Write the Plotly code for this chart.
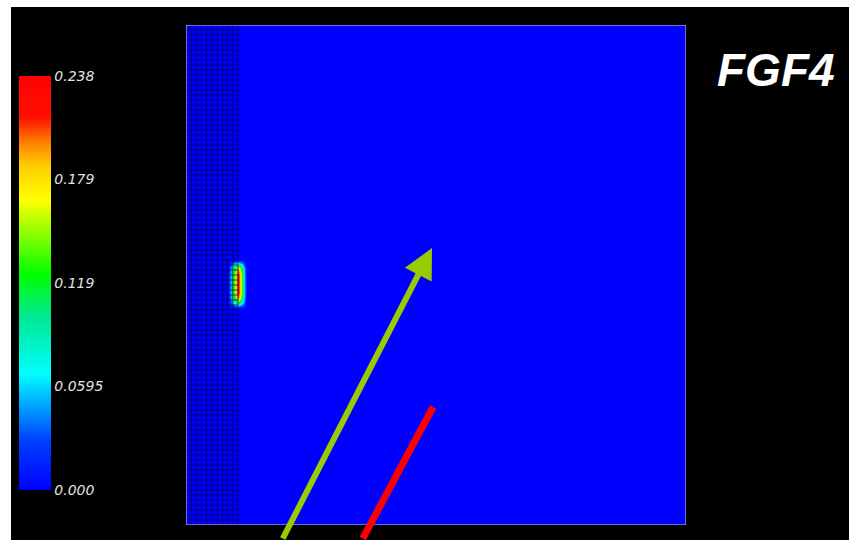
import plotly.graph_objects as go

# ---- data ----
field_x_edges = [0, 10.4, 100]
field_y_edges = [0, 100]
field_z = [[0.0, 0.0]]

mesh_x = [0, 1.04, 2.08, 3.12, 4.16, 5.2, 6.24, 7.28, 8.32, 9.36, 10.4]
mesh_y = list(range(0, 101))

hot_x = [8.4, 8.9, 9.4, 9.9, 10.4, 10.9, 11.3, 11.7, 12.2]
hot_y = [43.4, 44.2, 45.2, 46.5, 48.3, 50.1, 51.4, 52.2, 53.0]
hot_z = [
    [0.0, 0.0, 0.0, 0.0, 0.0, 0.0, 0.0, 0.0, 0.0],
    [0.0, 0.02, 0.05, 0.065, 0.095, 0.065, 0.045, 0.016, 0.0],
    [0.0, 0.042, 0.10, 0.135, 0.20, 0.135, 0.093, 0.034, 0.0],
    [0.0, 0.05, 0.12, 0.16, 0.238, 0.16, 0.11, 0.04, 0.0],
    [0.0, 0.05, 0.12, 0.16, 0.238, 0.16, 0.11, 0.04, 0.0],
    [0.0, 0.05, 0.12, 0.16, 0.238, 0.16, 0.11, 0.04, 0.0],
    [0.0, 0.042, 0.10, 0.135, 0.20, 0.135, 0.093, 0.034, 0.0],
    [0.0, 0.02, 0.05, 0.065, 0.095, 0.065, 0.045, 0.016, 0.0],
    [0.0, 0.0, 0.0, 0.0, 0.0, 0.0, 0.0, 0.0, 0.0],
]

cb_tickvals = [0.0, 0.0595, 0.119, 0.179, 0.238]
cb_ticktext = ["0.000", "0.0595", "0.119", "0.179", "0.238"]
zmax = 0.238
title_text = "FGF4"

colorscale = [
    [0.0, "#0000ff"], [0.12, "#0040ff"], [0.28, "#00ffff"], [0.42, "#00e890"],
    [0.52, "#00ff00"], [0.70, "#ffff00"], [0.78, "#ffd000"], [0.84, "#ff8000"],
    [0.90, "#ff1000"], [1.0, "#ff0000"],
]

fig = go.Figure()
fig.add_trace(go.Heatmap(x=field_x_edges, y=field_y_edges, z=field_z,
                         coloraxis="coloraxis", hoverinfo="skip"))
fig.add_trace(go.Heatmap(x=hot_x, y=hot_y, z=hot_z, zsmooth="best",
                         coloraxis="coloraxis", hoverinfo="skip"))

# mesh lines
lx, ly = [], []
for xv in mesh_x:
    lx += [xv, xv, None]
    ly += [mesh_y[0], mesh_y[-1], None]
for yv in mesh_y:
    lx += [mesh_x[0], mesh_x[-1], None]
    ly += [yv, yv, None]
fig.add_trace(go.Scatter(x=lx, y=ly, mode="lines", hoverinfo="skip",
                         line=dict(color="rgba(0,0,70,0.7)", width=1),
                         showlegend=False))

W, H = 849, 540
L, T, PW, PH = 186, 25, 500, 500


def px(p):  # screen x -> paper
    return (p - L) / PW


def py(p):  # screen y -> paper
    return (T + PH - p) / PH


shapes = [
    dict(type="rect", xref="paper", yref="paper", x0=px(-5), x1=px(11), y0=py(H + 20), y1=py(-5),
         fillcolor="white", line_width=0, layer="below"),
    dict(type="rect", xref="paper", yref="paper", x0=px(-5), x1=px(W + 20), y0=py(7), y1=py(-5),
         fillcolor="white", line_width=0, layer="below"),
    dict(type="rect", xref="x", yref="y", x0=0, x1=100, y0=0, y1=100,
         line=dict(color="#9090e0", width=1.5), fillcolor="rgba(0,0,0,0)", layer="above"),
]

annotations = [
    dict(x=49.2, y=55.4, xref="x", yref="y", text="", showarrow=True,
         ax=-150, ay=300, arrowhead=2, arrowsize=1, arrowwidth=6, arrowcolor="#99cc00",
         standoff=0),
    dict(x=49.4, y=23.6, xref="x", yref="y", text="", showarrow=True,
         ax=-71, ay=138, arrowhead=0, arrowwidth=7, arrowcolor="#ff0000", standoff=0),
    dict(x=px(776), y=py(70), xref="paper", yref="paper", text=title_text, showarrow=False,
         xanchor="center", yanchor="middle",
         font=dict(family="Liberation Sans, Arial", size=46, color="white",
                   weight="bold", style="italic")),
]

fig.update_layout(
    width=W, height=H,
    margin=dict(l=L, r=W - L - PW, t=T, b=H - T - PH, pad=0),
    paper_bgcolor="black", plot_bgcolor="#0000ff",
    showlegend=False,
    xaxis=dict(range=[0, 100], visible=False, fixedrange=True),
    yaxis=dict(range=[0, 100], visible=False, fixedrange=True),
    coloraxis=dict(
        colorscale=colorscale, cmin=0, cmax=zmax,
        colorbar=dict(
            x=px(19), xanchor="left", xpad=0, ypad=0,
            y=py(283), yanchor="middle",
            thickness=32, thicknessmode="pixels",
            len=414, lenmode="pixels",
            outlinewidth=0, ticks="",
            tickvals=cb_tickvals, ticktext=cb_ticktext,
            tickfont=dict(family="DejaVu Sans", size=14, color="#e0e0e0", style="italic"),
        ),
    ),
    shapes=shapes, annotations=annotations,
)

fig.write_html(
    "out.html",
    config={"displayModeBar": False},
    post_script="document.body.style.margin='0';document.body.style.overflow='hidden';"
                "document.body.style.background='black';",
)
